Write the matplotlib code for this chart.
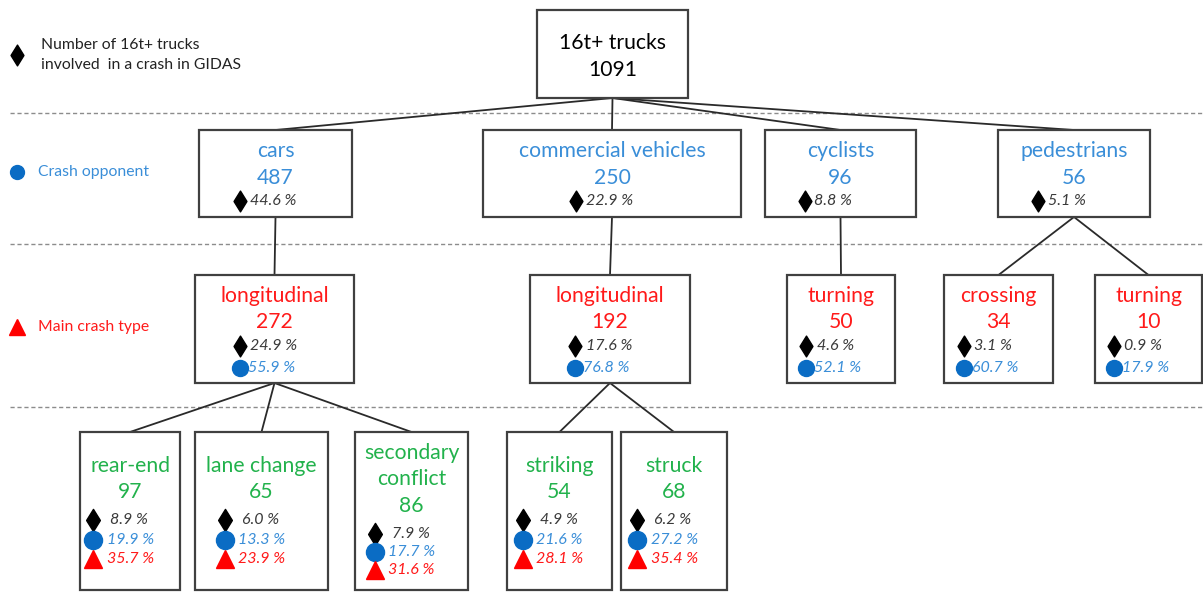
import matplotlib
matplotlib.use("Agg")
import matplotlib.pyplot as plt
from matplotlib.patches import Rectangle
from matplotlib.path import Path

# ---------------- data ----------------
root_label = "16t+ trucks"
root_count = 1091

l1_labels = ["cars", "commercial vehicles", "cyclists", "pedestrians"]
l1_counts = [487, 250, 96, 56]
l1_share_total = [44.6, 22.9, 8.8, 5.1]

l2_labels = ["longitudinal", "longitudinal", "turning", "crossing", "turning"]
l2_counts = [272, 192, 50, 34, 10]
l2_share_total = [24.9, 17.6, 4.6, 3.1, 0.9]
l2_share_opponent = [55.9, 76.8, 52.1, 60.7, 17.9]
l2_parent = [0, 1, 2, 3, 3]

l3_labels = ["rear-end", "lane change", "secondary\nconflict", "striking", "struck"]
l3_counts = [97, 65, 86, 54, 68]
l3_share_total = [8.9, 6.0, 7.9, 4.9, 6.2]
l3_share_opponent = [19.9, 13.3, 17.7, 21.6, 27.2]
l3_share_type = [35.7, 23.9, 31.6, 28.1, 35.4]
l3_parent = [0, 0, 0, 1, 1]

legend_texts = ["Number of 16t+ trucks\ninvolved  in a crash in GIDAS", "Crash opponent", "Main crash type"]

# ---------------- layout (pixel space) ----------------
root_box = (537, 10, 688, 98)
l1_boxes = [(199, 130, 352, 217), (483, 130, 741, 217), (765, 130, 916, 217), (998, 130, 1150, 217)]
l2_boxes = [(195, 275, 354, 383), (530, 275, 690, 383), (787, 275, 895, 383), (944, 275, 1053, 383), (1095, 275, 1202, 383)]
l3_boxes = [(80, 432, 180, 590), (195, 432, 328, 590), (355, 432, 468, 590), (507, 432, 612, 590), (621, 432, 727, 590)]
dash_y = [113, 244, 407]

BLUE_T = "#3A8ED8"
BLUE_M = "#0A6CC4"
RED = "#FF1A1A"
GREEN = "#22B24C"
GREY_T = "#3A3A3A"
EDGE = "#404040"

plt.rcParams['font.family'] = ['Lato', 'DejaVu Sans']

fig = plt.figure(figsize=(12.03, 5.92), dpi=100)
ax = fig.add_axes([0, 0, 1, 1])
ax.set_xlim(0, 1203)
ax.set_ylim(592, 0)
ax.axis('off')

diamond = Path([(0, 1), (0.62, 0), (0, -1), (-0.62, 0), (0, 1)],
               [Path.MOVETO, Path.LINETO, Path.LINETO, Path.LINETO, Path.CLOSEPOLY])

FS = 15.2
PFS = 11.5

def box(b):
    x0, y0, x1, y1 = b
    ax.add_patch(Rectangle((x0, y0), x1 - x0, y1 - y0, fill=True, fc='white',
                           ec=EDGE, lw=1.6, zorder=3))

def cx(b):
    return (b[0] + b[2]) / 2

def connect(p, c):
    ax.plot([cx(p), cx(c)], [p[3], c[1]], color='#2a2a2a', lw=1.3, zorder=2)

def pct_row(x_m, x_t, y, val, kind, big=False):
    if kind == 'd':
        ax.plot(x_m, y, marker=diamond, ms=16 if big else 15, color='black', zorder=5)
        ax.text(x_t, y, f"{val:.1f} %", color=GREY_T, fontsize=PFS, style='italic',
                va='center', ha='left', zorder=5)
    elif kind == 'o':
        ax.plot(x_m, y, marker='o', ms=13 if big else 11.5, color=BLUE_M, zorder=5)
        ax.text(x_t, y, f"{val:.1f} %", color=BLUE_T, fontsize=PFS, style='italic',
                va='center', ha='left', zorder=5)
    else:
        ax.plot(x_m, y, marker='^', ms=13, color='#FF0000', zorder=5)
        ax.text(x_t, y, f"{val:.1f} %", color=RED, fontsize=PFS, style='italic',
                va='center', ha='left', zorder=5)

# dashed separators
for y in dash_y:
    ax.plot([10, 1203], [y, y], color='#8C8C8C', lw=1.0, ls=(0, (3, 2)), zorder=1)

# connections
for b in l1_boxes:
    connect(root_box, b)
for i, b in enumerate(l2_boxes):
    connect(l1_boxes[l2_parent[i]], b)
for i, b in enumerate(l3_boxes):
    connect(l2_boxes[l3_parent[i]], b)

# root
box(root_box)
ax.text(cx(root_box), 43, root_label, fontsize=FS, color='black', ha='center', va='center', zorder=5)
ax.text(cx(root_box), 70, str(root_count), fontsize=FS, color='black', ha='center', va='center', zorder=5)

# level 1
for i, b in enumerate(l1_boxes):
    box(b)
    c = cx(b)
    ax.text(c, 151, l1_labels[i], fontsize=FS, color=BLUE_T, ha='center', va='center', zorder=5)
    ax.text(c, 178, str(l1_counts[i]), fontsize=FS, color=BLUE_T, ha='center', va='center', zorder=5)
    pct_row(c - 36, c - 26, 201, l1_share_total[i], 'd')

# level 2
for i, b in enumerate(l2_boxes):
    box(b)
    c = cx(b)
    ax.text(c, 296, l2_labels[i], fontsize=FS, color=RED, ha='center', va='center', zorder=5)
    ax.text(c, 322, str(l2_counts[i]), fontsize=FS, color=RED, ha='center', va='center', zorder=5)
    pct_row(c - 35, c - 24, 346, l2_share_total[i], 'd')
    pct_row(c - 35, c - 27, 368, l2_share_opponent[i], 'o')

# level 3
for i, b in enumerate(l3_boxes):
    box(b)
    c = cx(b)
    if "\n" in l3_labels[i]:
        lines = l3_labels[i].split("\n")
        ax.text(c, 453, lines[0], fontsize=FS, color=GREEN, ha='center', va='center', zorder=5)
        ax.text(c, 479, lines[1], fontsize=FS, color=GREEN, ha='center', va='center', zorder=5)
        ax.text(c, 506, str(l3_counts[i]), fontsize=FS, color=GREEN, ha='center', va='center', zorder=5)
        ys = (534, 552, 570)
    else:
        ax.text(c, 466, l3_labels[i], fontsize=FS, color=GREEN, ha='center', va='center', zorder=5)
        ax.text(c, 492, str(l3_counts[i]), fontsize=FS, color=GREEN, ha='center', va='center', zorder=5)
        ys = (520, 540, 559)
    pct_row(c - 37, c - 20, ys[0], l3_share_total[i], 'd', big=True)
    pct_row(c - 37, c - 23, ys[1], l3_share_opponent[i], 'o', big=True)
    pct_row(c - 37, c - 23, ys[2], l3_share_type[i], '^', big=True)

# legend on the left
ax.plot(17, 55, marker=diamond, ms=15, color='black')
ax.text(41, 55, legend_texts[0], fontsize=11.3, color='#222222', ha='left', va='center', linespacing=1.55)
ax.plot(17, 172, marker='o', ms=10, color=BLUE_M)
ax.text(38, 172, legend_texts[1], fontsize=11.3, color=BLUE_T, ha='left', va='center')
ax.plot(17, 327, marker='^', ms=11, color='#FF0000')
ax.text(38, 327, legend_texts[2], fontsize=11.3, color=RED, ha='left', va='center')

fig.savefig("out.png", dpi=100)
